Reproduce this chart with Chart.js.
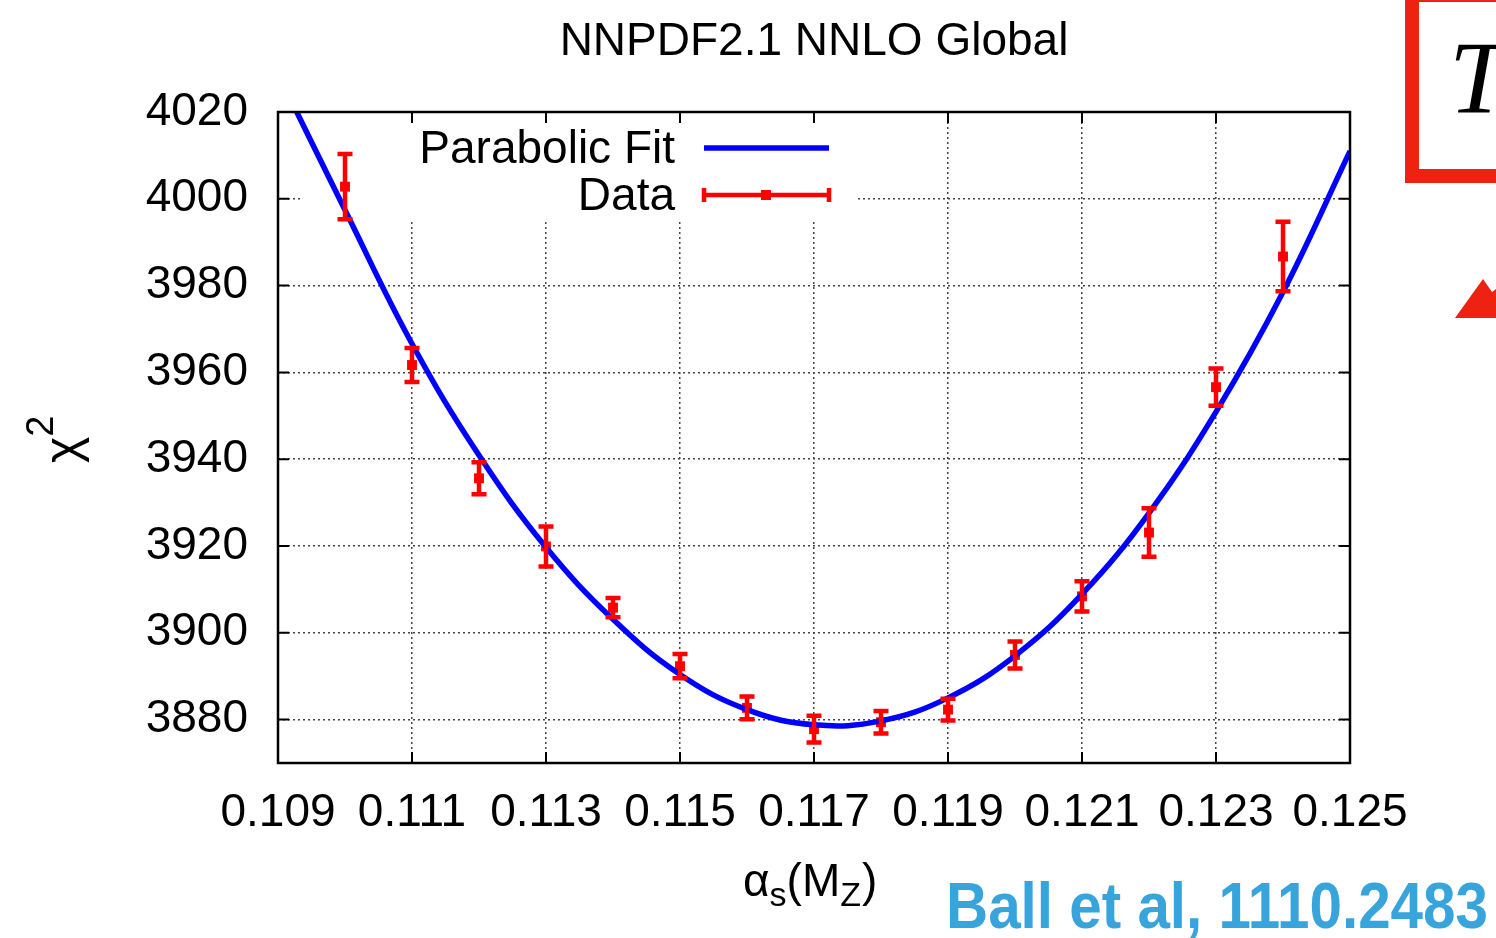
<!DOCTYPE html>
<html>
<head>
<meta charset="utf-8">
<script src="https://cdn.jsdelivr.net/npm/chart.js@4/dist/chart.umd.min.js"></script>
<style>
  html, body { margin: 0; padding: 0; background: #fff; overflow: hidden; }
</style>
</head>
<body>
<canvas id="grafica" width="1496" height="938"></canvas>
<script>
// Puntos de chi2 frente a alpha_s(MZ), con su error
const alphaS = [0.110, 0.111, 0.112, 0.113, 0.114, 0.115, 0.116, 0.117, 0.118, 0.119, 0.120, 0.121, 0.122, 0.123, 0.124];
const chi2 = [4002.8, 3961.7, 3935.6, 3919.9, 3905.8, 3892.3, 3882.7, 3877.8, 3879.4, 3882.3, 3894.9, 3908.4, 3923.1, 3956.6, 3986.7];
const chi2Err = [7.5, 3.9, 3.7, 4.6, 2.2, 2.8, 2.6, 3.1, 2.6, 2.5, 3.1, 3.5, 5.6, 4.3, 8.0];

// Curva del ajuste parabólico
const ajusteX = [0.10928, 0.110, 0.111, 0.112, 0.113, 0.114, 0.115, 0.116, 0.117, 0.118, 0.119, 0.120, 0.121, 0.122, 0.123, 0.124, 0.125];
const ajusteY = [4020, 3997.4, 3966.6, 3940.9, 3919.7, 3903.1, 3890.4, 3882.3, 3878.8, 3879.7, 3885.0, 3894.7, 3908.9, 3927.6, 3950.9, 3978.5, 4011.0];

// Marcas de los ejes
const ticksX = [0.109, 0.111, 0.113, 0.115, 0.117, 0.119, 0.121, 0.123, 0.125];
const ticksY = [3880, 3900, 3920, 3940, 3960, 3980, 4000, 4020];

const FUENTE = '"Liberation Sans", Arial, Helvetica, sans-serif';
const AZUL = '#0000ff';
const ROJO = '#ff0000';

function rejilla(min, max) {
    return function(ctx) {
        if (!ctx.tick) return 'rgba(0,0,0,0)';
        let v = ctx.tick.value;
        return (Math.abs(v - min) < 1e-9 || Math.abs(v - max) < 1e-9) ? 'rgba(0,0,0,0)' : '#444444';
    };
}

// Dibujos extra: hueco de la leyenda, barras de error, marco, textos
const extras = {
    id: 'extras',
    beforeDatasetsDraw(chart) {
        const c = chart.ctx, a = chart.chartArea;
        // la caja de la leyenda tapa la rejilla
        c.save();
        c.fillStyle = '#fff';
        c.fillRect(302, a.top + 1, 555, 106);
        c.restore();
    },
    afterDatasetsDraw(chart) {
        const c = chart.ctx, a = chart.chartArea;
        const sx = chart.scales.x, sy = chart.scales.y;

        // barras de error
        c.save();
        c.strokeStyle = ROJO;
        c.lineWidth = 4.5;
        c.lineCap = 'butt';
        for (let i = 0; i < alphaS.length; i++) {
            let x = sx.getPixelForValue(alphaS[i]);
            let y1 = sy.getPixelForValue(chi2[i] + chi2Err[i]);
            let y2 = sy.getPixelForValue(chi2[i] - chi2Err[i]);
            c.beginPath();
            c.moveTo(x, y1); c.lineTo(x, y2);
            c.moveTo(x - 7.5, y1); c.lineTo(x + 7.5, y1);
            c.moveTo(x - 7.5, y2); c.lineTo(x + 7.5, y2);
            c.stroke();
        }
        c.restore();

        // marco
        c.save();
        c.strokeStyle = '#000';
        c.lineWidth = 2.5;
        c.strokeRect(a.left, a.top, a.right - a.left, a.bottom - a.top);
        c.lineWidth = 2;
        c.beginPath();
        ticksY.forEach(v => {
            let y = sy.getPixelForValue(v);
            c.moveTo(a.left, y); c.lineTo(a.left + 11, y);
            c.moveTo(a.right, y); c.lineTo(a.right - 11, y);
        });
        ticksX.forEach(v => {
            let x = sx.getPixelForValue(v);
            c.moveTo(x, a.bottom); c.lineTo(x, a.bottom - 11);
            c.moveTo(x, a.top); c.lineTo(x, a.top + 11);
        });
        c.stroke();
        c.restore();

        // leyenda
        c.save();
        c.fillStyle = '#000';
        c.font = '46px ' + FUENTE;
        c.textAlign = 'right';
        c.textBaseline = 'middle';
        c.fillText('Parabolic Fit', 675, 150);
        c.fillText('Data', 675, 197);
        c.strokeStyle = AZUL;
        c.lineWidth = 5.5;
        c.beginPath(); c.moveTo(704, 148); c.lineTo(829, 148); c.stroke();
        c.strokeStyle = ROJO;
        c.lineWidth = 4.5;
        c.beginPath();
        c.moveTo(704, 195); c.lineTo(829, 195);
        c.moveTo(704, 188); c.lineTo(704, 202);
        c.moveTo(829, 188); c.lineTo(829, 202);
        c.stroke();
        c.fillStyle = ROJO;
        c.fillRect(761, 190, 10, 10);
        c.restore();
    },
    afterDraw(chart) {
        const c = chart.ctx, a = chart.chartArea;
        c.save();
        c.fillStyle = '#000';

        // título
        c.font = '46px ' + FUENTE;
        c.textAlign = 'center';
        c.textBaseline = 'middle';
        c.fillText('NNPDF2.1 NNLO Global', (a.left + a.right) / 2, 42);

        // título eje X: alpha_s(M_Z)
        c.textAlign = 'left';
        c.textBaseline = 'alphabetic';
        let x = 743, base = 896;
        c.font = '46px ' + FUENTE;
        c.fillText('\u03b1', x, base); x += c.measureText('\u03b1').width;
        c.font = '34px ' + FUENTE;
        c.fillText('s', x, base + 10); x += c.measureText('s').width;
        c.font = '46px ' + FUENTE;
        c.fillText('(M', x, base); x += c.measureText('(M').width;
        c.font = '34px ' + FUENTE;
        c.fillText('Z', x, base + 10); x += c.measureText('Z').width + 1;
        c.font = '46px ' + FUENTE;
        c.fillText(')', x, base);

        // título eje Y: chi^2 girado
        c.save();
        c.translate(79, 463);
        c.rotate(-Math.PI / 2);
        c.font = '50px ' + FUENTE;
        c.fillText('\u03c7', 0, 0);
        let w = c.measureText('\u03c7').width;
        c.font = '38px ' + FUENTE;
        c.fillText('2', w, -26);
        c.restore();

        // referencia
        c.save();
        c.fillStyle = '#38a4dc';
        c.font = 'bold 64px ' + FUENTE;
        let texto = 'Ball et al, 1110.2483';
        let escala = 542 / c.measureText(texto).width;
        c.translate(946, 928);
        c.scale(escala, 1);
        c.fillText(texto, 0, 0);
        c.restore();

        // recuadro rojo de la esquina
        c.strokeStyle = '#ee2211';
        c.lineWidth = 14;
        c.strokeRect(1412, -5, 120, 181);
        c.font = 'italic 104px "Liberation Serif", "DejaVu Serif", serif';
        c.fillStyle = '#000';
        c.fillText('T', 1449, 113);
        c.fillStyle = '#ee2211';
        c.beginPath();
        c.moveTo(1455, 318);
        c.lineTo(1483, 279);
        c.lineTo(1492, 292);
        c.lineTo(1496, 289);
        c.lineTo(1496, 318);
        c.closePath();
        c.fill();
        c.restore();
    }
};

const ctx = document.getElementById('grafica').getContext('2d');
const chartInstance = new Chart(ctx, {
    type: 'line',
    data: {
        datasets: [{
            label: 'Parabolic Fit',
            data: ajusteX.map((v, i) => ({ x: v, y: ajusteY[i] })),
            borderColor: AZUL,
            borderWidth: 5.5,
            pointRadius: 0,
            fill: false,
            tension: 0.4
        }, {
            label: 'Data',
            data: alphaS.map((v, i) => ({ x: v, y: chi2[i] })),
            showLine: false,
            pointStyle: 'rect',
            pointRadius: 7,
            backgroundColor: ROJO,
            borderColor: ROJO,
            borderWidth: 0
        }]
    },
    options: {
        responsive: false,
        animation: false,
        events: [],
        layout: { padding: { left: 0, top: 112, right: 146, bottom: 0 } },
        plugins: { legend: { display: false }, tooltip: { enabled: false }, title: { display: false } },
        scales: {
            x: {
                type: 'linear',
                min: 0.109,
                max: 0.125,
                afterBuildTicks: s => { s.ticks = ticksX.map(v => ({ value: v })); },
                afterFit: s => { s.height = 175; },
                ticks: {
                    autoSkip: false,
                    maxRotation: 0,
                    padding: 23,
                    color: '#000',
                    font: { family: FUENTE, size: 46 },
                    callback: v => Number(v).toFixed(3)
                },
                grid: { color: rejilla(0.109, 0.125), lineWidth: 1.5, drawTicks: false },
                border: { display: false, dash: [2, 3] }
            },
            y: {
                min: 3870,
                max: 4020,
                afterBuildTicks: s => { s.ticks = ticksY.map(v => ({ value: v })); },
                afterFit: s => { s.width = 278; },
                ticks: {
                    padding: 30,
                    color: '#000',
                    font: { family: FUENTE, size: 46 },
                    callback: v => v
                },
                grid: { color: rejilla(3870, 4020), lineWidth: 1.5, drawTicks: false },
                border: { display: false, dash: [2, 3] }
            }
        }
    },
    plugins: [extras]
});
</script>
</body>
</html>
